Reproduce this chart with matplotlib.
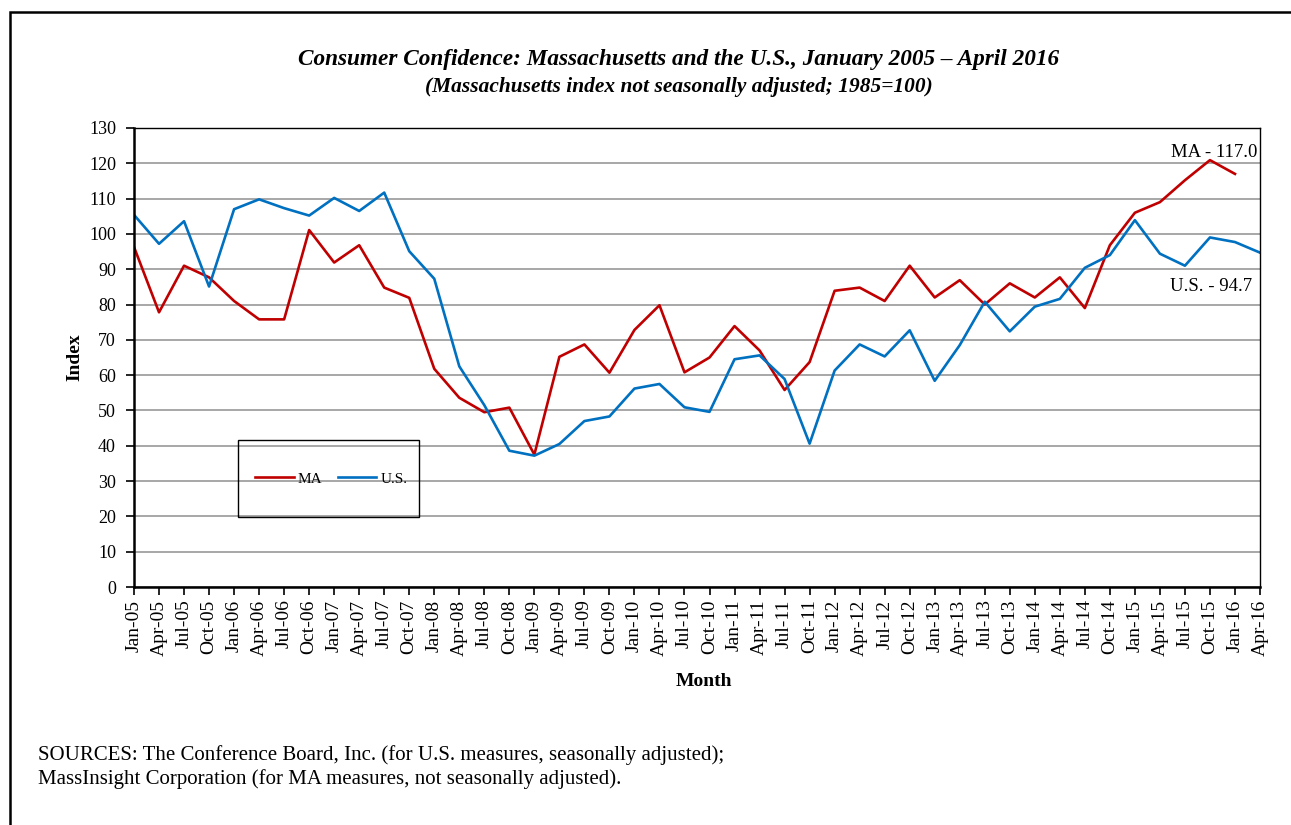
import numpy as np
import matplotlib
matplotlib.use("Agg")
import matplotlib.pyplot as plt
from matplotlib.patches import Rectangle

# quarterly labels, Jan-05 .. Apr-16
QUARTERS = [f"{m}-{y:02d}" for y in range(5, 17) for m in ("Jan", "Apr", "Jul", "Oct")][:46]

MA_INDEX = [
    96.3, 77.8, 91.0, 87.7, 81.0, 75.8, 75.8, 101.1, 91.9, 96.8, 84.8, 81.9,
    61.8, 53.6, 49.5, 50.8, 37.5, 65.2, 68.7, 60.7, 72.8, 79.8, 60.8, 65.0,
    73.9, 67.0, 55.8, 63.7, 83.9, 84.8, 81.0, 91.0, 82.0, 86.9, 80.0, 86.0,
    82.0, 87.7, 79.0, 96.8, 106.0, 109.0, 115.2, 120.9, 117.0,
]
US_INDEX = [
    105.4, 97.2, 103.6, 85.1, 107.0, 109.8, 107.3, 105.2, 110.2, 106.5, 111.7, 95.1,
    87.3, 62.5, 51.5, 38.6, 37.2, 40.5, 47.0, 48.3, 56.2, 57.5, 50.9, 49.6,
    64.5, 65.6, 58.9, 40.6, 61.3, 68.7, 65.3, 72.7, 58.4, 68.5, 80.8, 72.4,
    79.4, 81.6, 90.4, 94.0, 103.9, 94.4, 91.0, 99.0, 97.7, 94.7,
]

RED = "#C00000"
BLUE = "#0070C0"
W, H = 1291, 825

plt.rcParams["font.family"] = ["Liberation Serif", "DejaVu Serif"]

fig = plt.figure(figsize=(W / 100, H / 100), dpi=100)

# outer frame, cut off at right and bottom like the source image
fig.patches.append(Rectangle((10 / W, -0.05), 1.2, 1 - 12 / H + 0.05,
                             transform=fig.transFigure, fill=False,
                             edgecolor="black", linewidth=1.8))

ax = fig.add_axes([134 / W, 1 - 587 / H, 1126 / W, 459 / H])

x = np.arange(len(QUARTERS))
ax.plot(x[:len(MA_INDEX)], MA_INDEX, color=RED, linewidth=1.9, label="MA")
ax.plot(x[:len(US_INDEX)], US_INDEX, color=BLUE, linewidth=1.9, label="U.S.")

ax.set_xlim(0, len(QUARTERS) - 1)
ax.set_ylim(0, 130)
ax.set_yticks(np.arange(0, 131, 10))
ax.set_xticks(x)
ax.set_xticklabels(QUARTERS, rotation=90, fontsize=14)
ax.tick_params(axis="y", labelsize=13, direction="out", length=6, width=1.2, pad=7)
ax.tick_params(axis="x", direction="out", length=6, width=1.2, pad=3)

ax.yaxis.grid(True, color="#A0A0A0", linewidth=1.3)
ax.set_axisbelow(True)
for side in ("left", "bottom"):
    ax.spines[side].set_linewidth(1.8)
for side in ("top", "right"):
    ax.spines[side].set_linewidth(1.0)

ax.set_xlabel("Month", fontsize=14, fontweight="bold")
ax.xaxis.set_label_coords((704 - 134) / 1126, (587 - 673) / 459)
ax.set_ylabel("Index", fontsize=14, fontweight="bold")
ax.yaxis.set_label_coords((83 - 134) / 1126, 0.5)

ax.text(44.9, 123.2, f"MA - {MA_INDEX[-1]:.1f}", fontsize=13.5, ha="right", va="center")
ax.text(44.7, 85.0, f"U.S. - {US_INDEX[-1]:.1f}", fontsize=13.5, ha="right", va="center")

# legend: entries without frame, box drawn separately
leg = ax.legend(loc="center left", bbox_to_anchor=(255 / W, 1 - 479 / H),
                bbox_transform=fig.transFigure, ncol=2, fontsize=11, frameon=False,
                handlelength=2.55, handletextpad=0.26, columnspacing=0.98,
                borderpad=0, borderaxespad=0)
fig.patches.append(Rectangle((238 / W, 1 - 517 / H), 181 / W, 77 / H,
                             transform=fig.transFigure, fill=False,
                             edgecolor="black", linewidth=1.0, zorder=5))

fig.text(679 / W, 1 - 60 / H, "Consumer Confidence: Massachusetts and the U.S., January 2005 \u2013 April 2016",
         ha="center", va="center", fontsize=16.75, fontweight="bold", style="italic")
fig.text(679 / W, 1 - 87 / H, "(Massachusetts index not seasonally adjusted; 1985=100)",
         ha="center", va="center", fontsize=15.4, fontweight="bold", style="italic")

fig.text(38 / W, 1 - 755 / H,
         "SOURCES: The Conference Board, Inc. (for U.S. measures, seasonally adjusted);",
         ha="left", va="center", fontsize=15)
fig.text(38 / W, 1 - 779 / H,
         "MassInsight Corporation (for MA measures, not seasonally adjusted).",
         ha="left", va="center", fontsize=15)

fig.savefig("out.png", dpi=100, facecolor="white")
